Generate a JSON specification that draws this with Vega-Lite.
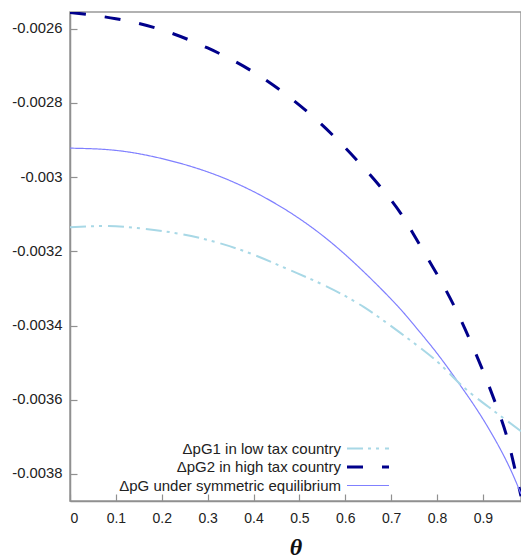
{
  "$schema": "https://vega.github.io/schema/vega-lite/v6.json",
  "autosize": "none",
  "width": 451,
  "height": 489,
  "padding": {"left": 70, "top": 12, "right": 0, "bottom": 57},
  "background": "white",
  "data": {
    "values": [
      {"theta": 0, "v": -0.002556, "series": "ΔpG2 in high tax country"},
      {"theta": 0.1, "v": -0.002573, "series": "ΔpG2 in high tax country"},
      {"theta": 0.2, "v": -0.002603, "series": "ΔpG2 in high tax country"},
      {"theta": 0.3, "v": -0.002652, "series": "ΔpG2 in high tax country"},
      {"theta": 0.4, "v": -0.002717, "series": "ΔpG2 in high tax country"},
      {"theta": 0.5, "v": -0.002806, "series": "ΔpG2 in high tax country"},
      {"theta": 0.6, "v": -0.002921, "series": "ΔpG2 in high tax country"},
      {"theta": 0.7, "v": -0.003062, "series": "ΔpG2 in high tax country"},
      {"theta": 0.75, "v": -0.003157, "series": "ΔpG2 in high tax country"},
      {"theta": 0.8, "v": -0.003262, "series": "ΔpG2 in high tax country"},
      {"theta": 0.85, "v": -0.00338, "series": "ΔpG2 in high tax country"},
      {"theta": 0.9, "v": -0.003522, "series": "ΔpG2 in high tax country"},
      {"theta": 0.93, "v": -0.003618, "series": "ΔpG2 in high tax country"},
      {"theta": 0.955, "v": -0.003712, "series": "ΔpG2 in high tax country"},
      {"theta": 0.983, "v": -0.00386, "series": "ΔpG2 in high tax country"},

      {"theta": 0, "v": -0.002922, "series": "ΔpG under symmetric equilibrium"},
      {"theta": 0.1, "v": -0.002928, "series": "ΔpG under symmetric equilibrium"},
      {"theta": 0.2, "v": -0.00295, "series": "ΔpG under symmetric equilibrium"},
      {"theta": 0.3, "v": -0.002986, "series": "ΔpG under symmetric equilibrium"},
      {"theta": 0.4, "v": -0.003039, "series": "ΔpG under symmetric equilibrium"},
      {"theta": 0.5, "v": -0.003112, "series": "ΔpG under symmetric equilibrium"},
      {"theta": 0.6, "v": -0.003209, "series": "ΔpG under symmetric equilibrium"},
      {"theta": 0.7, "v": -0.003329, "series": "ΔpG under symmetric equilibrium"},
      {"theta": 0.75, "v": -0.003399, "series": "ΔpG under symmetric equilibrium"},
      {"theta": 0.8, "v": -0.003475, "series": "ΔpG under symmetric equilibrium"},
      {"theta": 0.85, "v": -0.00356, "series": "ΔpG under symmetric equilibrium"},
      {"theta": 0.9, "v": -0.003652, "series": "ΔpG under symmetric equilibrium"},
      {"theta": 0.95, "v": -0.003762, "series": "ΔpG under symmetric equilibrium"},
      {"theta": 0.983, "v": -0.003854, "series": "ΔpG under symmetric equilibrium"},

      {"theta": 0, "v": -0.003135, "series": "ΔpG1 in low tax country"},
      {"theta": 0.08, "v": -0.003132, "series": "ΔpG1 in low tax country"},
      {"theta": 0.16, "v": -0.003139, "series": "ΔpG1 in low tax country"},
      {"theta": 0.24, "v": -0.003153, "series": "ΔpG1 in low tax country"},
      {"theta": 0.32, "v": -0.003176, "series": "ΔpG1 in low tax country"},
      {"theta": 0.4, "v": -0.003209, "series": "ΔpG1 in low tax country"},
      {"theta": 0.48, "v": -0.003251, "series": "ΔpG1 in low tax country"},
      {"theta": 0.56, "v": -0.003295, "series": "ΔpG1 in low tax country"},
      {"theta": 0.64, "v": -0.00335, "series": "ΔpG1 in low tax country"},
      {"theta": 0.72, "v": -0.00342, "series": "ΔpG1 in low tax country"},
      {"theta": 0.8, "v": -0.003497, "series": "ΔpG1 in low tax country"},
      {"theta": 0.854, "v": -0.003562, "series": "ΔpG1 in low tax country"},
      {"theta": 0.915, "v": -0.003622, "series": "ΔpG1 in low tax country"},
      {"theta": 0.983, "v": -0.003685, "series": "ΔpG1 in low tax country"}
    ]
  },
  "mark": {"type": "line", "interpolate": "natural", "clip": true},
  "encoding": {
    "x": {
      "field": "theta",
      "type": "quantitative",
      "scale": {"domain": [0, 0.983], "nice": false, "zero": false},
      "axis": {
        "title": "θ",
        "values": [0, 0.1, 0.2, 0.3, 0.4, 0.5, 0.6, 0.7, 0.8, 0.9],
        "labelExpr": "format(datum.value, '~g')",
        "labelPadding": 17,
        "titleFont": "Liberation Serif",
        "titleFontSize": 24,
        "titleFontStyle": "italic",
        "titleFontWeight": "bold",
        "titleColor": "#111111",
        "titlePadding": 10
      }
    },
    "y": {
      "field": "v",
      "type": "quantitative",
      "scale": {"domain": [-0.003873, -0.002555], "nice": false, "zero": false},
      "axis": {
        "title": null,
        "values": [-0.0026, -0.0028, -0.003, -0.0032, -0.0034, -0.0036, -0.0038],
        "labelExpr": "'-' + format(abs(datum.value), '~g')",
        "labelPadding": 15,
        "labelFontSize": 14.8
      }
    },
    "color": {
      "field": "series",
      "type": "nominal",
      "scale": {
        "domain": ["ΔpG1 in low tax country", "ΔpG2 in high tax country", "ΔpG under symmetric equilibrium"],
        "range": ["#a8d8e6", "#00008b", "#8080ff"]
      },
      "legend": {"title": null}
    },
    "strokeDash": {
      "field": "series",
      "type": "nominal",
      "scale": {
        "domain": ["ΔpG1 in low tax country", "ΔpG2 in high tax country", "ΔpG under symmetric equilibrium"],
        "range": [[16, 5, 3, 5, 3, 6], [16, 19], [1, 0]]
      },
      "legend": {"title": null}
    },
    "strokeWidth": {
      "field": "series",
      "type": "nominal",
      "scale": {
        "type": "ordinal",
        "domain": ["ΔpG1 in low tax country", "ΔpG2 in high tax country", "ΔpG under symmetric equilibrium"],
        "range": [2, 3, 1.2]
      },
      "legend": {"title": null}
    }
  },
  "config": {
    "view": {"stroke": "#999999", "strokeWidth": 1.5},
    "font": "Liberation Sans",
    "axis": {
      "grid": false,
      "domainColor": "#909090",
      "domainWidth": 1.5,
      "tickColor": "#909090",
      "tickWidth": 1.2,
      "tickSize": -7,
      "labelFont": "Liberation Sans",
      "labelFontSize": 14,
      "labelColor": "#222222"
    },
    "legend": {
      "orient": "none",
      "legendX": 50.5,
      "legendY": 429,
      "labelAlign": "right",
      "labelOffset": -34.5,
      "symbolOffset": 240,
      "symbolType": "M-5.25,0H5.25",
      "symbolSize": 64,
      "labelFont": "Liberation Sans",
      "labelFontSize": 15,
      "labelColor": "#222222",
      "labelLimit": 400,
      "rowPadding": 2.5,
      "padding": 0
    }
  }
}
